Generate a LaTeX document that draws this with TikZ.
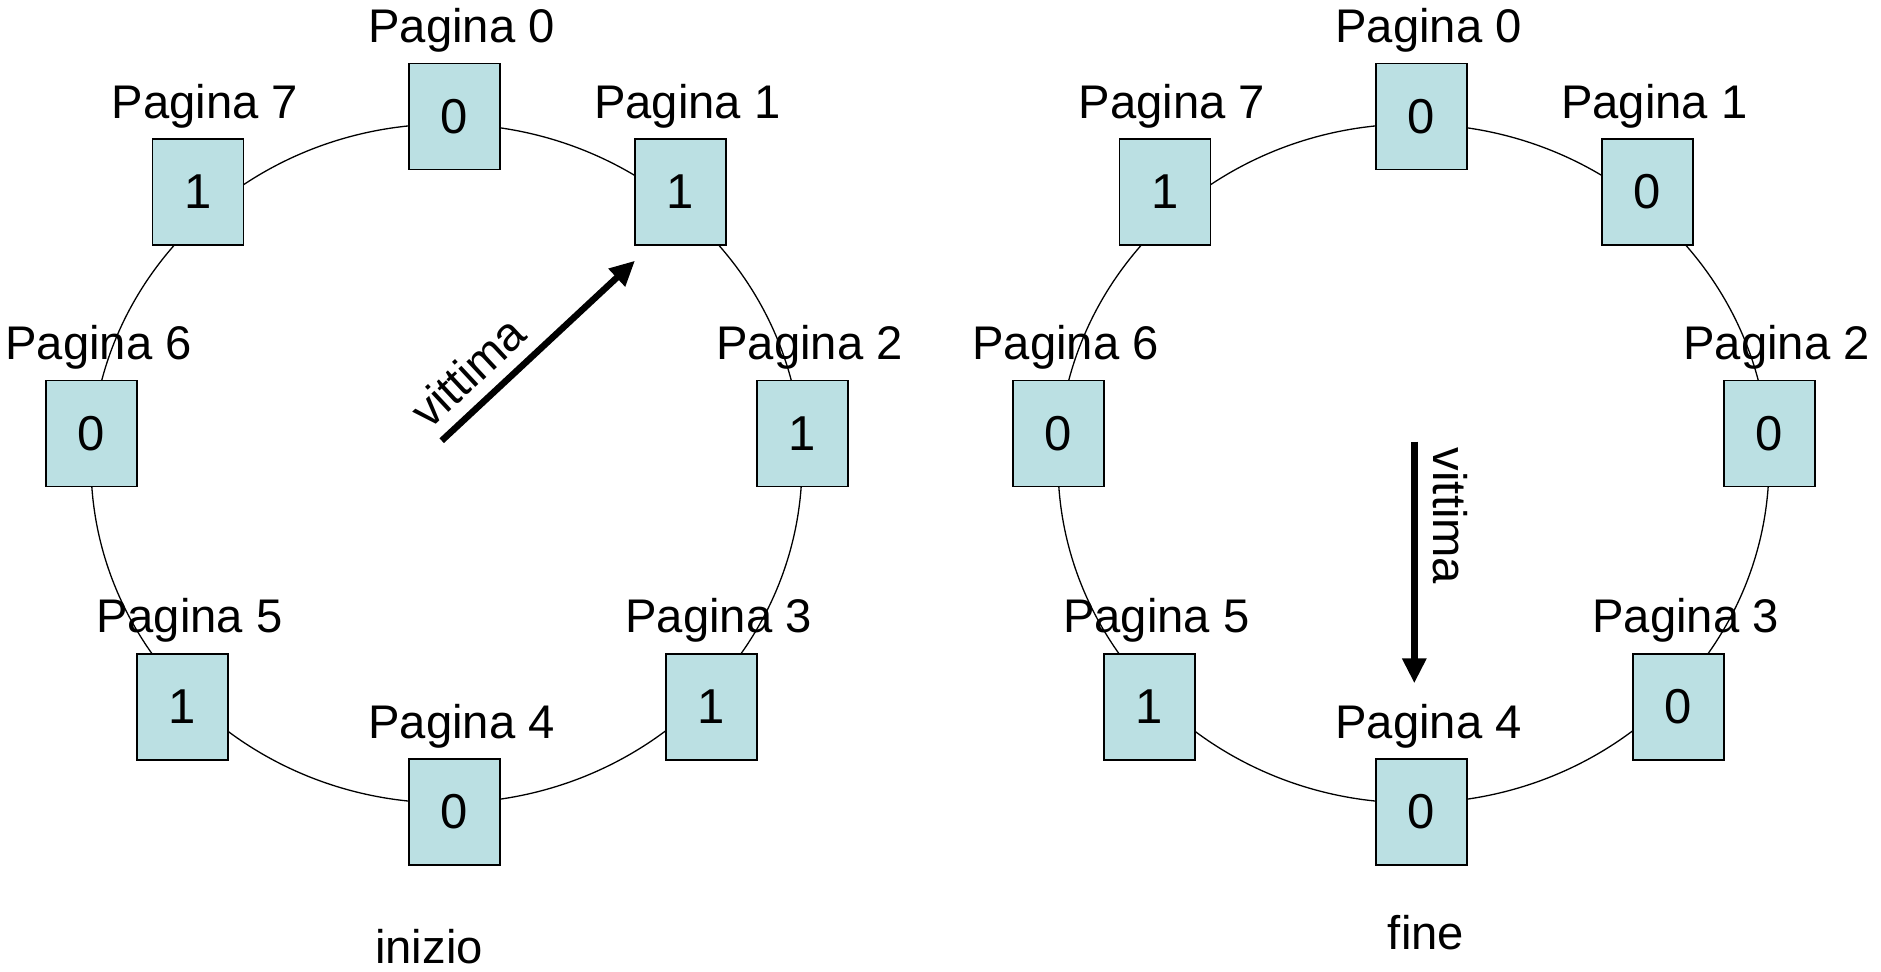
\documentclass[tikz,border=0pt]{standalone}
\usepackage{fontspec}
\setmainfont{Liberation Sans}
\usetikzlibrary{arrows.meta}
\definecolor{boxfill}{RGB}{187,224,227}
\begin{document}
\begin{tikzpicture}[x=0.5pt,y=-0.5pt,
  page/.style={draw=black, line width=0.9pt, fill=boxfill, minimum width=45.5pt,
    minimum height=53pt, inner sep=0pt, font=\fontsize{24.5}{29}\selectfont},
  lbl/.style={font=\fontsize{23.6}{28}\selectfont, anchor=base, inner sep=0pt},
  ring/.style={draw=black, line width=0.65pt},
  ptr/.style={line width=3.25pt, -{Triangle[width=11.5pt,length=12.5pt]}}
]
\useasboundingbox (0,0) rectangle (1881,972);
% rings
\draw[ring] (446.5,463.5) ellipse [x radius=177.75pt, y radius=169.75pt];
\draw[ring] (1413.5,463.5) ellipse [x radius=177.75pt, y radius=169.75pt];
% pages
\foreach \i/\x/\y/\a/\b in {0/454.5/116.5/0/0, 1/680.4/192/1/0, 2/802.5/433.5/1/0,
  3/711.6/706.8/1/0, 4/454.5/812/0/0, 5/182.4/706.8/1/1, 6/91.5/433.5/0/0, 7/198/192/1/1}{
  \node[page] (L\i) at (\x,\y) {\a};
  \node[lbl] (LT\i) at ([xshift=3.5pt,yshift=10pt]L\i.north) {Pagina \i};
  \node[page] (R\i) at (\x+967,\y) {\b};
  \node[lbl] (RT\i) at ([xshift=3.5pt,yshift=10pt]R\i.north) {Pagina \i};
}
% pointers
\coordinate (la0) at (441.7,440.7);
\coordinate (la1) at (635,260.7);
\draw[ptr] (la0) -- (la1);
\node[lbl, rotate=43] (lv) at (479.1,384) {vittima};
\coordinate (ra0) at (1414.3,441.7);
\coordinate (ra1) at (1414.3,683.3);
\draw[ptr] (ra0) -- (ra1);
\node[lbl, rotate=-90] (rv) at (1433.3,516) {vittima};
% captions
\node[lbl] (cap1) at (429,963.3) {inizio};
\node[lbl] (cap2) at (1426,950) {fine};
\end{tikzpicture}
\end{document}
